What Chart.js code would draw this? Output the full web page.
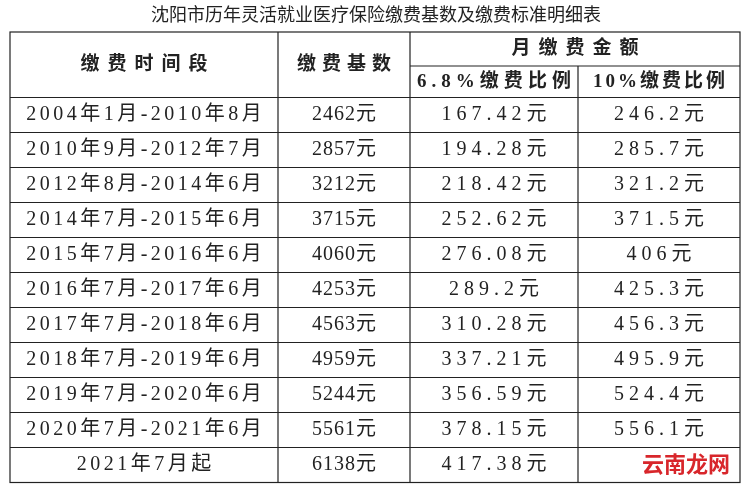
<!DOCTYPE html>
<html>
<head>
<meta charset="utf-8">
<script src="https://cdn.jsdelivr.net/npm/chart.js@4"></script>
<style>
  body { margin: 0; background: #fff; }
  #wrap { width: 746px; height: 487px; }
</style>
</head>
<body>
<div id="wrap"><canvas id="tabla" width="746" height="487"></canvas></div>
<script>
// datos de la tabla
var titulo = '沈阳市历年灵活就业医疗保险缴费基数及缴费标准明细表';
var periodos = ['2004年1月-2010年8月', '2010年9月-2012年7月', '2012年8月-2014年6月', '2014年7月-2015年6月',
  '2015年7月-2016年6月', '2016年7月-2017年6月', '2017年7月-2018年6月', '2018年7月-2019年6月',
  '2019年7月-2020年6月', '2020年7月-2021年6月', '2021年7月起'];
var bases = ['2462元', '2857元', '3212元', '3715元', '4060元', '4253元', '4563元', '4959元', '5244元', '5561元', '6138元'];
var pago68 = ['167.42元', '194.28元', '218.42元', '252.62元', '276.08元', '289.2元', '310.28元', '337.21元', '356.59元', '378.15元', '417.38元'];
var pago10 = ['246.2元', '285.7元', '321.2元', '371.5元', '406元', '425.3元', '456.3元', '495.9元', '524.4元', '556.1元', ''];
var encabezados = ['缴费时间段', '缴费基数', '月缴费金额', '6.8%缴费比例', '10%缴费比例'];

// rejilla en unidades de la escala
var colBordes = [10, 278, 410, 578, 740];
var espaciado = [3.5, 1, 5, 5];
var filaTop = 32, filaMedio = 66, filaDatos = 97.5, altoFila = 35;

var columnas = [periodos, bases, pago68, pago10];
var puntos = [];
columnas.forEach(function(col, c) {
  col.forEach(function(txt, r) {
    puntos.push({ x: (colBordes[c] + colBordes[c + 1]) / 2, y: filaDatos + altoFila * (r + 0.5), t: txt, c: c });
  });
});

var serif = '"Liberation Serif", "Noto Sans CJK SC", serif';

function texto(ctx, t, x, y, sp) {
  ctx.letterSpacing = sp + 'px';
  ctx.fillText(t, x + sp / 2, y);
  ctx.letterSpacing = '0px';
}

var tablaPlugin = {
  id: 'tabla',
  beforeDraw: function(chart) {
    var ctx = chart.ctx;
    ctx.save();
    ctx.fillStyle = '#fff';
    ctx.fillRect(0, 0, chart.width, chart.height);
    ctx.restore();
  },
  afterDatasetsDraw: function(chart) {
    var ctx = chart.ctx, sx = chart.scales.x, sy = chart.scales.y;
    var X = function(v) { return sx.getPixelForValue(v); };
    var Y = function(v) { return sy.getPixelForValue(v); };
    var fondo = filaDatos + altoFila * periodos.length;
    ctx.save();
    ctx.strokeStyle = '#222';
    ctx.lineWidth = 1.2;
    ctx.strokeRect(X(colBordes[0]), Y(filaTop), X(colBordes[4]) - X(colBordes[0]), Y(fondo) - Y(filaTop));
    ctx.beginPath();
    for (var i = 1; i < 4; i++) {
      var y0 = i === 3 ? filaMedio : filaTop;
      ctx.moveTo(X(colBordes[i]), Y(y0));
      ctx.lineTo(X(colBordes[i]), Y(fondo));
    }
    ctx.moveTo(X(colBordes[2]), Y(filaMedio));
    ctx.lineTo(X(colBordes[4]), Y(filaMedio));
    for (var r = 0; r < periodos.length; r++) {
      var yy = filaDatos + altoFila * r;
      ctx.moveTo(X(colBordes[0]), Y(yy));
      ctx.lineTo(X(colBordes[4]), Y(yy));
    }
    ctx.stroke();

    // titulo
    ctx.fillStyle = '#222';
    ctx.textAlign = 'center';
    ctx.textBaseline = 'middle';
    ctx.font = '18px ' + serif;
    ctx.fillText(titulo, X(376), Y(16));

    // encabezados
    ctx.font = 'bold 19px ' + serif;
    texto(ctx, encabezados[0], X((colBordes[0] + colBordes[1]) / 2), Y((filaTop + filaDatos) / 2), 8);
    texto(ctx, encabezados[1], X((colBordes[1] + colBordes[2]) / 2), Y((filaTop + filaDatos) / 2), 6);
    texto(ctx, encabezados[2], X((colBordes[2] + colBordes[4]) / 2), Y((filaTop + filaMedio) / 2), 8);
    texto(ctx, encabezados[3], X((colBordes[2] + colBordes[3]) / 2), Y((filaMedio + filaDatos) / 2), 5);
    texto(ctx, encabezados[4], X((colBordes[3] + colBordes[4]) / 2), Y((filaMedio + filaDatos) / 2), 3);

    // celdas desde los puntos del dataset
    ctx.font = '20px ' + serif;
    var meta = chart.getDatasetMeta(0);
    meta.data.forEach(function(el, k) {
      texto(ctx, puntos[k].t, el.x, el.y, espaciado[puntos[k].c]);
    });

    // marca de agua
    ctx.font = 'bold 22px "Noto Sans CJK SC", sans-serif';
    ctx.fillStyle = '#d8262b';
    ctx.fillText('云南龙网', X(686), Y(464));
    ctx.restore();
  }
};

var grafico = new Chart(document.getElementById('tabla').getContext('2d'), {
  type: 'scatter',
  data: { datasets: [{ data: puntos, pointRadius: 0, pointHoverRadius: 0 }] },
  options: {
    responsive: false,
    animation: false,
    events: [],
    layout: { padding: 0 },
    plugins: { legend: { display: false }, tooltip: { enabled: false } },
    scales: {
      x: { type: 'linear', min: 0, max: 746, display: false },
      y: { type: 'linear', min: 0, max: 487, reverse: true, display: false }
    }
  },
  plugins: [tablaPlugin]
});
</script>
</body>
</html>
